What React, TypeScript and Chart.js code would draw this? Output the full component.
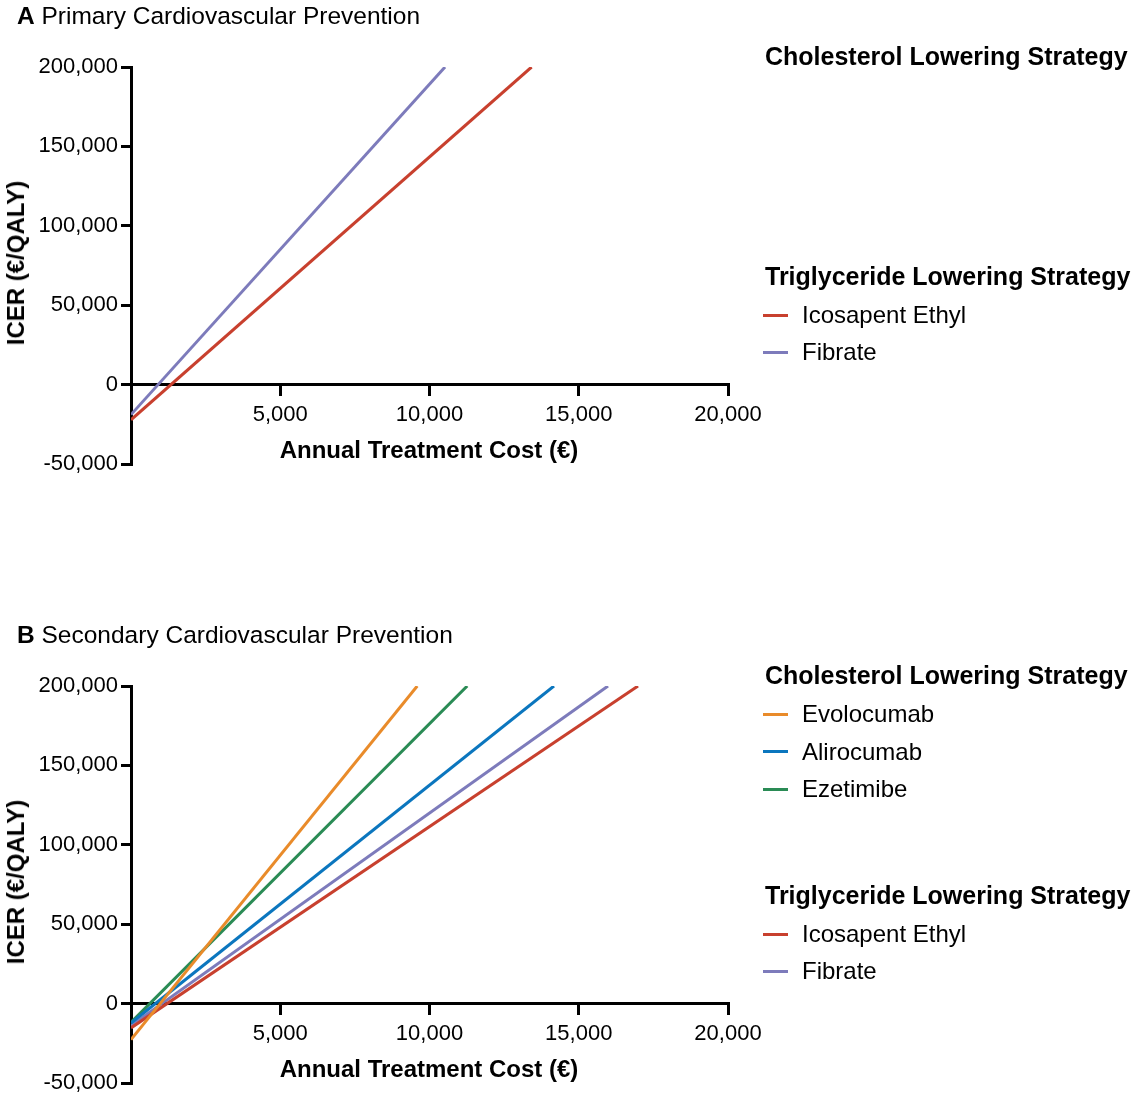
import React, { useEffect, useRef } from 'react';
import { Chart, registerables } from 'chart.js';

Chart.register(...registerables);

// ---- Data ----
const xTickValues = [0, 5000, 10000, 15000, 20000];
const yTickValues = [-50000, 0, 50000, 100000, 150000, 200000];

// Panel A (primary prevention): annual cost (€) vs ICER (€/QALY)
const icosapentA_cost = [0, 13420];
const icosapentA_icer = [-22200, 200000];
const fibrateA_cost = [0, 10520];
const fibrateA_icer = [-18900, 200000];

// Panel B (secondary prevention)
const evolocumabB_cost = [0, 9590];
const evolocumabB_icer = [-22700, 200000];
const alirocumabB_cost = [0, 14170];
const alirocumabB_icer = [-12200, 200000];
const ezetimibeB_cost = [0, 11265];
const ezetimibeB_icer = [-11800, 200000];
const icosapentB_cost = [0, 16985];
const icosapentB_icer = [-15300, 200000];
const fibrateB_cost = [0, 15980];
const fibrateB_icer = [-13800, 200000];

const COLORS = {
  red: '#C8402E',
  purple: '#7D7BBB',
  orange: '#E98B2A',
  blue: '#0B76BE',
  green: '#2A8B55',
};

const FONT = "'Liberation Sans', Arial, Helvetica, sans-serif";

type Series = { label: string; cost: number[]; icer: number[]; color: string };

const seriesA: Series[] = [
  { label: 'Icosapent Ethyl', cost: icosapentA_cost, icer: icosapentA_icer, color: COLORS.red },
  { label: 'Fibrate', cost: fibrateA_cost, icer: fibrateA_icer, color: COLORS.purple },
];

const seriesB: Series[] = [
  { label: 'Evolocumab', cost: evolocumabB_cost, icer: evolocumabB_icer, color: COLORS.orange },
  { label: 'Alirocumab', cost: alirocumabB_cost, icer: alirocumabB_icer, color: COLORS.blue },
  { label: 'Ezetimibe', cost: ezetimibeB_cost, icer: ezetimibeB_icer, color: COLORS.green },
  { label: 'Icosapent Ethyl', cost: icosapentB_cost, icer: icosapentB_icer, color: COLORS.red },
  { label: 'Fibrate', cost: fibrateB_cost, icer: fibrateB_icer, color: COLORS.purple },
];

const fmt = (v: number) => Number(v).toLocaleString('en-US');

function IcerChart({ series, top }: { series: Series[]; top: number }) {
  const ref = useRef<HTMLCanvasElement | null>(null);
  useEffect(() => {
    if (!ref.current) return;
    const chart = new Chart(ref.current, {
      type: 'scatter',
      data: {
        datasets: series.map((s) => ({
          label: s.label,
          data: s.cost.map((c, i) => ({ x: c, y: s.icer[i] })),
          showLine: true,
          borderColor: s.color,
          backgroundColor: s.color,
          borderWidth: 3,
          pointRadius: 0,
          fill: false,
        })),
      },
      options: {
        animation: false,
        responsive: false,
        maintainAspectRatio: false,
        layout: { padding: { top: 67, right: 52, bottom: 36, left: 0 } },
        plugins: { legend: { display: false }, tooltip: { enabled: false } },
        scales: {
          x: {
            type: 'linear',
            min: 0,
            max: 20000,
            position: { y: 0 } as any,
            afterBuildTicks: (scale: any) => {
              scale.ticks = xTickValues.map((v) => ({ value: v }));
            },
            ticks: {
              callback: (v: any) => (Number(v) === 0 ? '' : fmt(Number(v))),
              font: { family: FONT, size: 22 },
              color: '#000',
              padding: 7,
              maxRotation: 0,
              autoSkip: false,
            },
            grid: { drawOnChartArea: false, drawTicks: true, tickLength: 10, lineWidth: 3, color: '#000' },
            border: { display: true, width: 3, color: '#000' },
          },
          y: {
            type: 'linear',
            min: -50000,
            max: 200000,
            afterBuildTicks: (scale: any) => {
              scale.ticks = yTickValues.map((v) => ({ value: v }));
            },
            afterFit: (scale: any) => {
              scale.width = 131;
            },
            ticks: {
              callback: (v: any) => fmt(Number(v)),
              font: { family: FONT, size: 22 },
              color: '#000',
              padding: 3,
              autoSkip: false,
            },
            grid: { drawOnChartArea: false, drawTicks: true, tickLength: 10, lineWidth: 3, color: '#000' },
            border: { display: true, width: 3, color: '#000' },
          },
        },
      } as any,
    });
    return () => chart.destroy();
  }, [series]);
  return (
    <canvas
      ref={ref}
      width={780}
      height={500}
      style={{ position: 'absolute', left: 0, top, width: 780, height: 500 }}
    />
  );
}

function Txt({ x, y, size, bold, children, center }: any) {
  return (
    <div
      style={{
        position: 'absolute',
        left: x,
        top: y - 0.49 * size,
        fontFamily: FONT,
        fontSize: size,
        fontWeight: bold ? 'bold' : 'normal',
        lineHeight: 1,
        whiteSpace: 'nowrap',
        color: '#000',
        transform: center ? 'translateX(-50%)' : undefined,
      }}
    >
      {children}
    </div>
  );
}

function LegendItem({ y, color, label }: { y: number; color: string; label: string }) {
  return (
    <>
      <div style={{ position: 'absolute', left: 763, top: y - 1.5, width: 25, height: 3, background: color }} />
      <Txt x={802} y={y} size={24}>
        {label}
      </Txt>
    </>
  );
}

function Panel({ off, letter, title, series, cholesterol }: any) {
  const trig = series.filter((s: Series) => s.label === 'Icosapent Ethyl' || s.label === 'Fibrate');
  return (
    <>
      <IcerChart series={series} top={off} />
      <Txt x={17} y={off + 16} size={24.5}>
        <b>{letter}</b> {title}
      </Txt>
      <Txt x={429} y={off + 450} size={24} bold center>
        Annual Treatment Cost (€)
      </Txt>
      <div
        style={{
          position: 'absolute',
          left: 16,
          top: off + 263,
          fontFamily: FONT,
          fontSize: 24,
          fontWeight: 'bold',
          lineHeight: 1,
          whiteSpace: 'nowrap',
          transform: 'translate(-50%, -50%) rotate(-90deg)',
        }}
      >
        ICER (€/QALY)
      </div>
      <Txt x={765} y={off + 56} size={25} bold>
        Cholesterol Lowering Strategy
      </Txt>
      {cholesterol.map((s: Series, i: number) => (
        <LegendItem key={s.label} y={off + 95 + i * 37.5} color={s.color} label={s.label} />
      ))}
      <Txt x={765} y={off + 276} size={25} bold>
        Triglyceride Lowering Strategy
      </Txt>
      {trig.map((s: Series, i: number) => (
        <LegendItem key={s.label} y={off + 315 + i * 37} color={s.color} label={s.label} />
      ))}
    </>
  );
}

export default function App() {
  return (
    <div
      style={{
        position: 'absolute',
        left: 0,
        top: 0,
        width: 1133,
        height: 1095,
        overflow: 'hidden',
        background: '#fff',
      }}
    >
      <Panel off={0} letter="A" title="Primary Cardiovascular Prevention" series={seriesA} cholesterol={[]} />
      <Panel
        off={619}
        letter="B"
        title="Secondary Cardiovascular Prevention"
        series={seriesB}
        cholesterol={seriesB.slice(0, 3)}
      />
    </div>
  );
}
